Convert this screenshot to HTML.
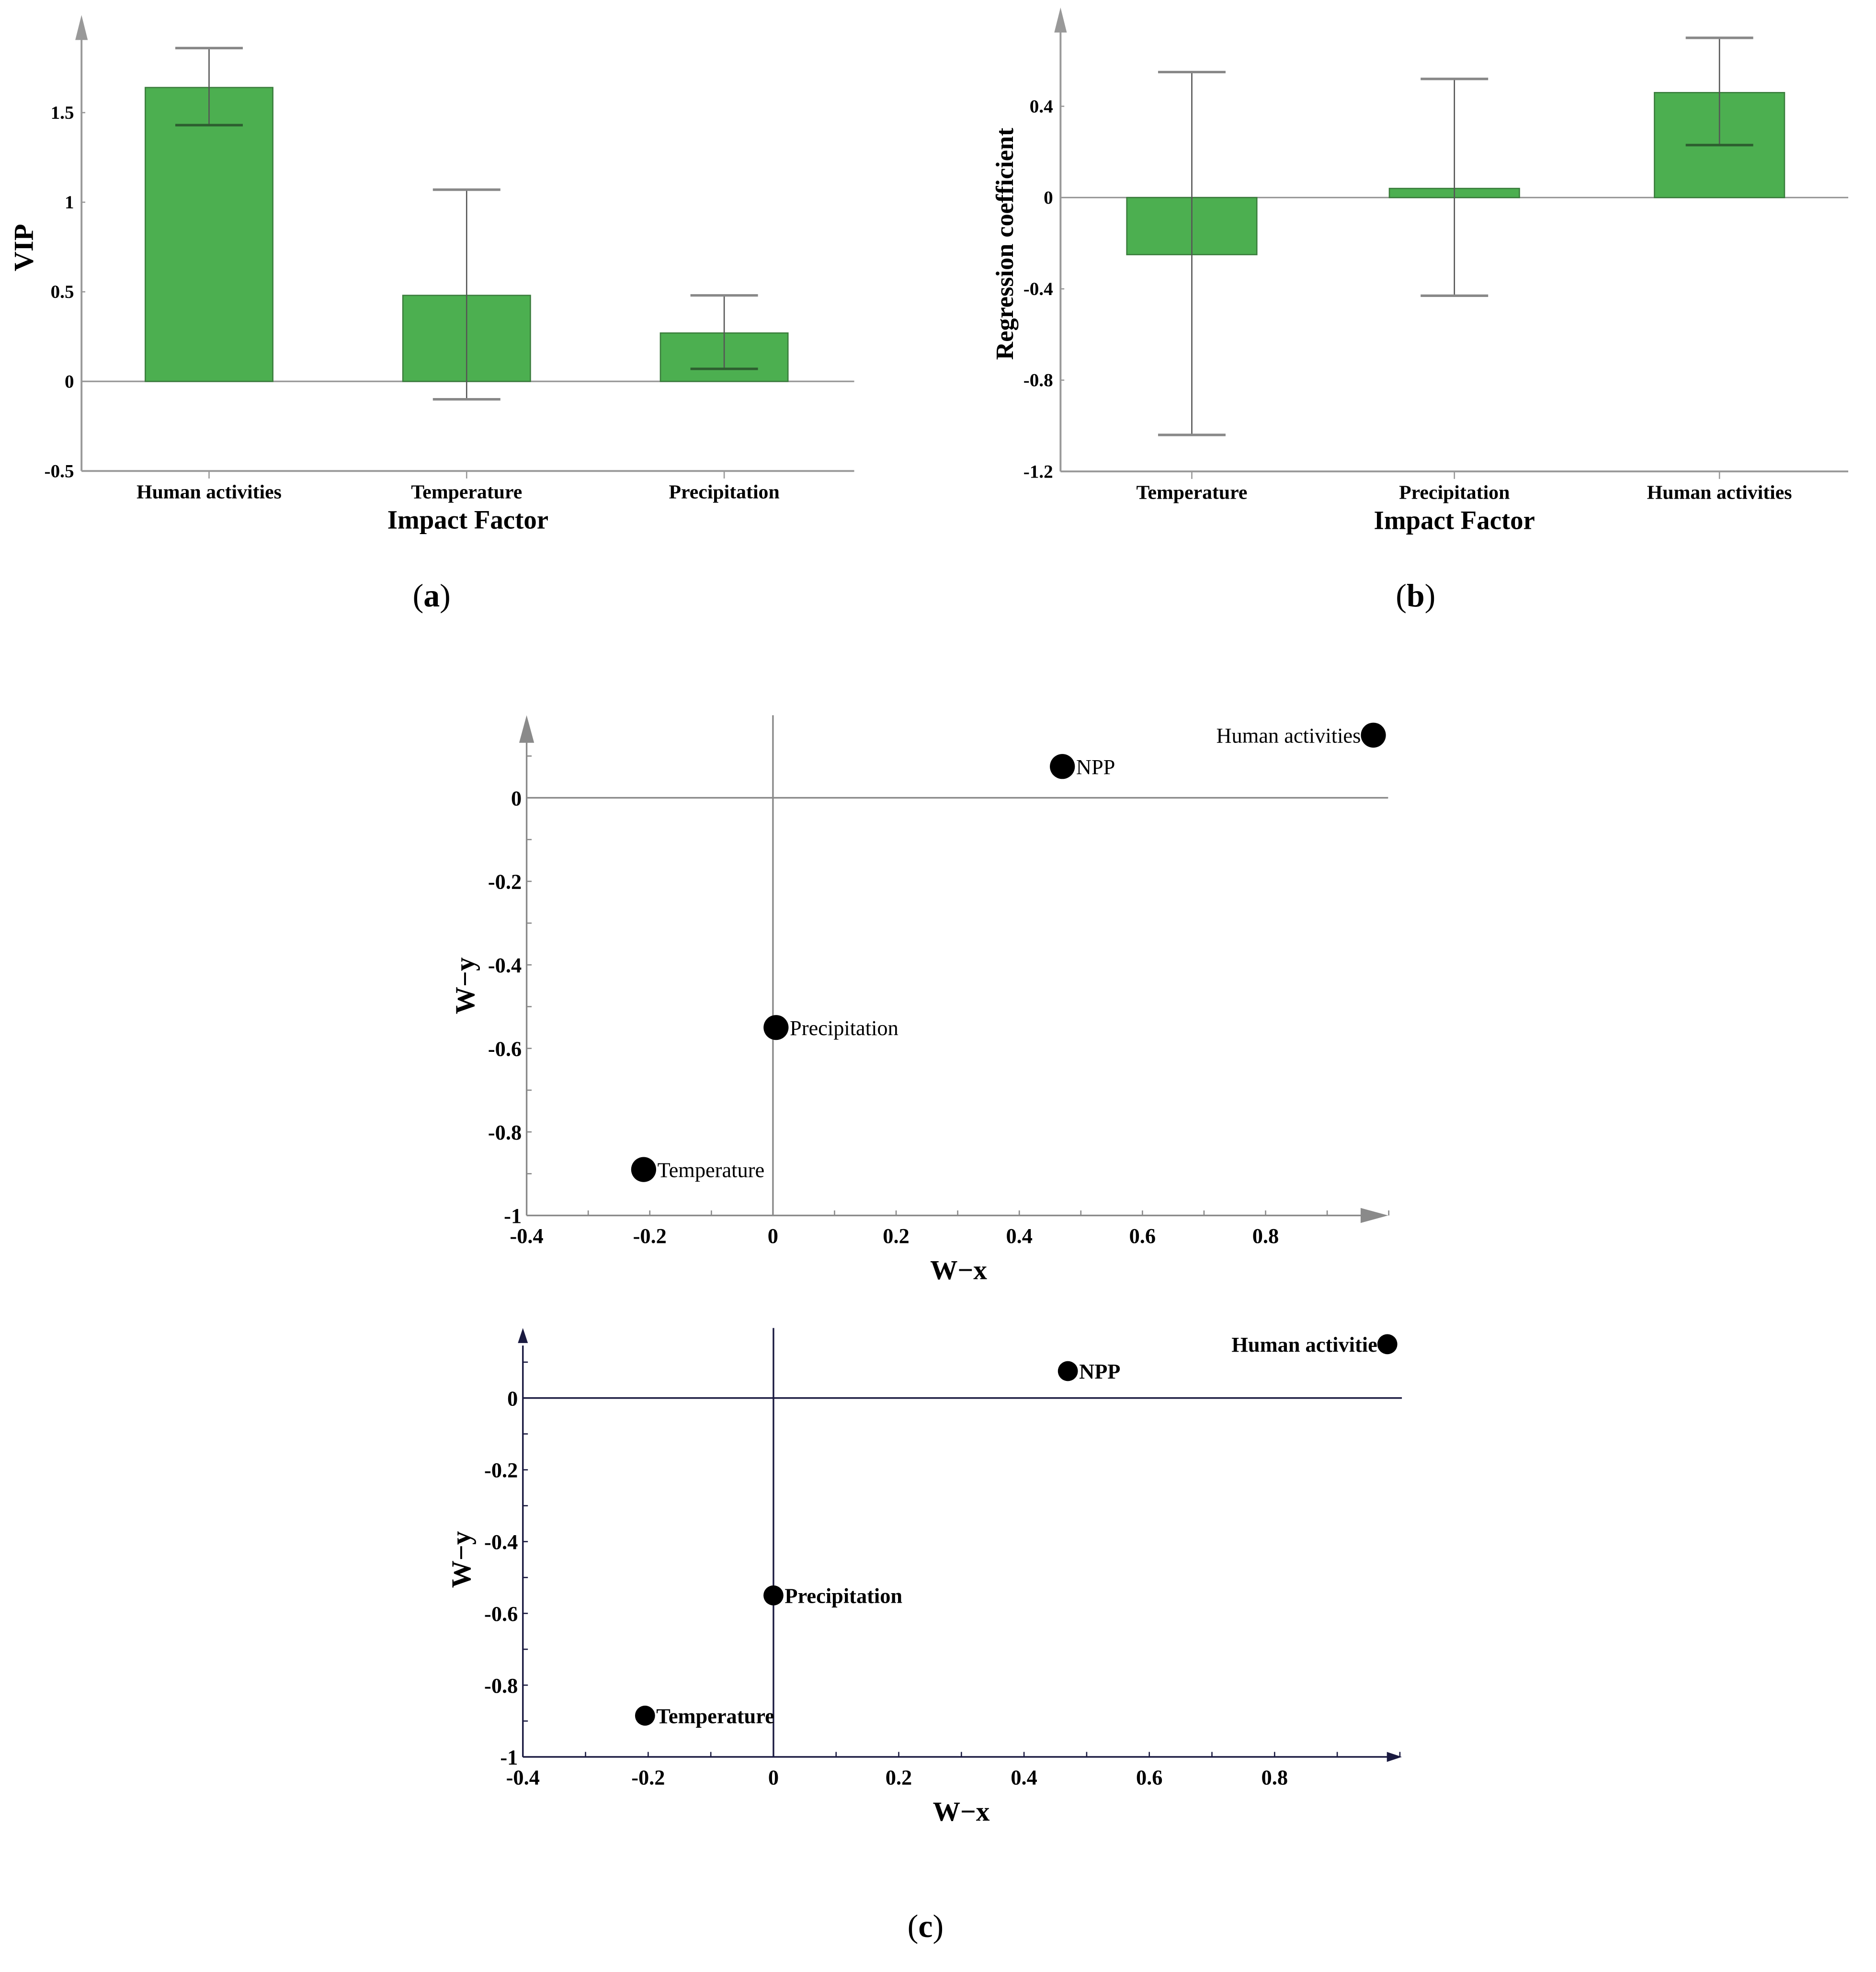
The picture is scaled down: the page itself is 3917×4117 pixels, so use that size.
<!DOCTYPE html>
<html><head><meta charset="utf-8"><style>
html,body{margin:0;padding:0;background:#fff}
svg{display:block}
text{font-family:"Liberation Serif",serif}
</style></head><body>
<svg id="fig" width="3917" height="4117" viewBox="0 0 1500 1577" xmlns="http://www.w3.org/2000/svg">
<g id="ga"></g>
<g id="gb"></g>
<g id="gc1"></g>
<g id="gc2"></g>
<text x="345" y="485" font-size="26" text-anchor="middle">(<tspan font-weight="bold">a</tspan>)</text>
<text x="1132" y="485" font-size="26" text-anchor="middle">(<tspan font-weight="bold">b</tspan>)</text>
<text x="740" y="1549" font-size="26" text-anchor="middle">(<tspan font-weight="bold">c</tspan>)</text>
</svg>
<script>
// Chart a data
const aCats=["Human activities","Temperature","Precipitation"];
const aVals=[1.64,0.48,0.27];
const aLow=[1.43,-0.10,0.07];
const aHigh=[1.86,1.07,0.48];
const aTicks=[-0.5,0,0.5,1,1.5];
const aTickLabels=["-0.5","0","0.5","1","1.5"];
// Chart b data
const bCats=["Temperature","Precipitation","Human activities"];
const bVals=[-0.25,0.04,0.46];
const bLow=[-1.04,-0.43,0.23];
const bHigh=[0.55,0.52,0.70];
const bTicks=[-1.2,-0.8,-0.4,0,0.4];
const bTickLabels=["-1.2","-0.8","-0.4","0","0.4"];
// Chart c data
const cNames=["Human activities","NPP","Precipitation","Temperature"];
const cX=[0.975,0.47,0.005,-0.21];
const cY=[0.15,0.075,-0.55,-0.89];
const c2Names=["Human activitie","NPP","Precipitation","Temperature"];
const c2X=[0.98,0.47,0.0,-0.205];
const c2Y=[0.15,0.075,-0.55,-0.885];
const cXTicks=[-0.4,-0.2,0,0.2,0.4,0.6,0.8];
const cXTickLabels=["-0.4","-0.2","0","0.2","0.4","0.6","0.8"];
const cYTicks=[-1,-0.8,-0.6,-0.4,-0.2,0];
const cYTickLabels=["-1","-0.8","-0.6","-0.4","-0.2","0"];

const NS="http://www.w3.org/2000/svg";
function mk(p,t,a){const e=document.createElementNS(NS,t);for(const k in a)e.setAttribute(k,a[k]);p.appendChild(e);return e;}

function barChart(g,o,cats,vals,lo,hi,ticks,tl,ytitle){
  const y=v=>o.y0-(v-o.v0)*o.k;
  const x=i=>o.xc[i];
  let ax=mk(g,'line',{x1:o.ax,y1:y(o.vmin),x2:o.ax,y2:o.top+12,stroke:'#999','stroke-width':1.5});
  
  
  let ar=mk(g,'path',{d:`M${o.ax-5},${o.top+14}L${o.ax},${o.top-6}L${o.ax+5},${o.top+14}Z`,fill:'#999'});
  
  
  let xa=mk(g,'line',{x1:o.ax,y1:y(o.vmin),x2:o.right,y2:y(o.vmin),stroke:'#999','stroke-width':1.5});
  
  
  let zl=mk(g,'line',{x1:o.ax,y1:y(0),x2:o.right,y2:y(0),stroke:'#999','stroke-width':1.2});
  
  
  ticks.forEach((v,i)=>{
    let t=mk(g,'text',{x:o.ax-6,y:y(v)+5,'font-size':15,'font-weight':'bold','text-anchor':'end'});
    t.textContent=tl[i];
    
    
    mk(g,'line',{x1:o.ax,y1:y(v),x2:o.ax+3,y2:y(v),stroke:'#999'});
  });
  cats.forEach((c,i)=>{
    const t0=Math.min(y(vals[i]),y(0)),h=Math.abs(y(vals[i])-y(0));
    let b=mk(g,'rect',{x:x(i)-o.bw/2,y:t0,width:o.bw,height:h,fill:'#4caf50',stroke:'#3a7d3c','stroke-width':1});
    
    
    let el=mk(g,'line',{x1:x(i),y1:y(lo[i]),x2:x(i),y2:y(hi[i]),stroke:'#555','stroke-width':1});
    
    
    [lo[i],hi[i]].forEach(v=>mk(g,'line',{x1:x(i)-27,y1:y(v),x2:x(i)+27,y2:y(v),stroke:(v<vals[i]&&v>0)?'#2d5e2f':'#888','stroke-width':2}));
    mk(g,'line',{x1:x(i),y1:y(o.vmin),x2:x(i),y2:y(o.vmin)+6,stroke:'#999'});
    let tl2=mk(g,'text',{x:x(i),y:y(o.vmin)+22,'font-size':16,'font-weight':'bold','text-anchor':'middle'});
    tl2.textContent=c;
    
    
  });
  let xt=mk(g,'text',{x:(o.ax+o.right)/2,y:y(o.vmin)+46,'font-size':21,'font-weight':'bold','text-anchor':'middle'});
  xt.textContent="Impact Factor";
  
  
  let yt=mk(g,'text',{x:0,y:0,'font-size':o.ytSize,'font-weight':'bold','text-anchor':'middle',transform:`translate(${o.ytx},${o.yty}) rotate(-90)`});
  yt.textContent=ytitle;
  
  
}
barChart(document.getElementById('ga'),{y0:305,v0:0,k:143.3,vmin:-0.5,ax:65,right:683,top:18,xc:[167,373,579],bw:102,ytx:26,yty:198,ytSize:22},aCats,aVals,aLow,aHigh,aTicks,aTickLabels,"VIP");
barChart(document.getElementById('gb'),{y0:158,v0:0,k:182.5,vmin:-1.2,ax:848,right:1478,top:12,xc:[953,1163,1375],bw:104,ytx:810,yty:195,ytSize:20},bCats,bVals,bLow,bHigh,bTicks,bTickLabels,"Regression coefficient");

function scatter(g,o,names,xs,ys){
  const X=v=>o.x0+(v+0.4)*o.kx, Y=v=>o.y0-v*o.ky;
  const c=o.col;
  let ya=mk(g,'line',{x1:X(-0.4),y1:Y(-1),x2:X(-0.4),y2:o.top+14,stroke:c,'stroke-width':1.3});
  
  
  mk(g,'path',{d:`M${X(-0.4)-o.aw},${o.top+o.al}L${X(-0.4)},${o.top}L${X(-0.4)+o.aw},${o.top+o.al}Z`,fill:c});
  let xa=mk(g,'line',{x1:X(-0.4),y1:Y(-1),x2:o.right-10,y2:Y(-1),stroke:c,'stroke-width':1.3});
  
  
  mk(g,'path',{d:`M${o.right-o.al},${Y(-1)-o.aw}L${o.right},${Y(-1)}L${o.right-o.al},${Y(-1)+o.aw}Z`,fill:c});
  let hz=mk(g,'line',{x1:X(-0.4),y1:Y(0),x2:o.right,y2:Y(0),stroke:c,'stroke-width':1.3});
  
  
  let vz=mk(g,'line',{x1:X(0),y1:o.top,x2:X(0),y2:Y(-1),stroke:c,'stroke-width':1.3});
  
  
  for(let v=-0.4;v<=1.0001;v+=0.1) mk(g,'line',{x1:X(v),y1:Y(-1),x2:X(v),y2:Y(-1)-4,stroke:c});
  for(let v=-1;v<=0.15;v+=0.1) mk(g,'line',{x1:X(-0.4),y1:Y(v),x2:X(-0.4)+4,y2:Y(v),stroke:c});
  cXTicks.forEach((v,i)=>{
    let t=mk(g,'text',{x:X(v),y:Y(-1)+22,'font-size':17,'font-weight':'bold','text-anchor':'middle'});
    t.textContent=cXTickLabels[i];
    
    
  });
  cYTicks.forEach((v,i)=>{
    let t=mk(g,'text',{x:X(-0.4)-4,y:Y(v)+6,'font-size':17,'font-weight':'bold','text-anchor':'end'});
    t.textContent=cYTickLabels[i];
    
    
  });
  let xt=mk(g,'text',{x:X(0.2)+50,y:Y(-1)+51,'font-size':22,'font-weight':'bold','text-anchor':'middle'});
  xt.textContent="W−x";
  
  
  let yt=mk(g,'text',{x:0,y:0,'font-size':22,'font-weight':'bold','text-anchor':'middle',transform:`translate(${X(-0.4)-42},${Y(-0.45)}) rotate(-90)`});
  yt.textContent="W−y";
  
  
  names.forEach((n,i)=>{
    let p=mk(g,'circle',{cx:X(xs[i]),cy:Y(ys[i]),r:o.r,fill:'#000'});
    
    
    const first=i===0;
    let t=mk(g,'text',{x:first?X(xs[i])-o.r:X(xs[i])+o.r+1,y:Y(ys[i])+6,'font-size':17,'font-weight':o.bold?'bold':'normal','text-anchor':first?'end':'start'});
    t.textContent=n;
    
    
  });
}
scatter(document.getElementById('gc1'),{x0:421,kx:492.5,y0:638,ky:334,top:572,right:1110,col:'#8a8a8a',aw:6,al:22,r:10,bold:false},cNames,cX,cY);
scatter(document.getElementById('gc2'),{x0:418,kx:501,y0:1118,ky:287,top:1062,right:1121,col:'#1a1a40',aw:4,al:12,r:8,bold:true},c2Names,c2X,c2Y);
</script>
</body></html>
